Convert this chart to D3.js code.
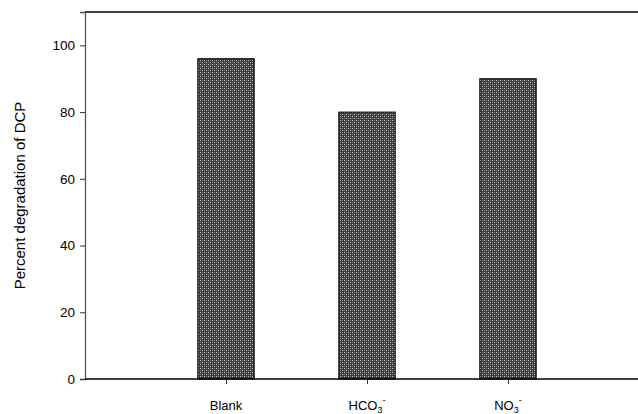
<!DOCTYPE html>
<html>
<head>
<meta charset="utf-8">
<script src="https://cdn.jsdelivr.net/npm/d3@7"></script>
<style>
body { margin: 0; background: #fff; }
text { font-family: "Liberation Sans", Arial, sans-serif; fill: #000; }
</style>
</head>
<body>
<div id="chart"></div>
<script>
// data
var categories = ["Blank", "HCO3", "NO3"];
var values = [96, 80, 90];
var yTicks = [0, 20, 40, 60, 80, 100];

var W = 638, H = 414;
var margin = { top: 12, left: 85, bottom: 35 };

var svg = d3.select("#chart").append("svg")
    .attr("width", W).attr("height", H);

// dotted fill like the original
var pat = svg.append("defs").append("pattern")
    .attr("id", "dots").attr("patternUnits", "userSpaceOnUse")
    .attr("width", 4).attr("height", 4);
pat.append("rect").attr("width", 4).attr("height", 4).attr("fill", "#3c3c3c");
pat.append("rect").attr("x", 0).attr("y", 0).attr("width", 1).attr("height", 1).attr("fill", "#c4c4c4");
pat.append("rect").attr("x", 2).attr("y", 2).attr("width", 1).attr("height", 1).attr("fill", "#c4c4c4");
pat.append("rect").attr("x", 2).attr("y", 0).attr("width", 1).attr("height", 1).attr("fill", "#7a7a7a");
pat.append("rect").attr("x", 0).attr("y", 2).attr("width", 1).attr("height", 1).attr("fill", "#7a7a7a");

var y = d3.scaleLinear().domain([0, 110]).range([H - margin.bottom, margin.top]);
// categories sit at 1,2,3; the frame runs past the right edge of the picture
var x = d3.scaleLinear().domain([0, 4]).range([margin.left, margin.left + 4 * 141]);
var barW = x(0.4) - x(0);

// top frame line
svg.append("line")
    .attr("x1", margin.left).attr("x2", W)
    .attr("y1", y(110)).attr("y2", y(110))
    .attr("stroke", "#000").attr("stroke-width", 1.5);

svg.selectAll("rect.bar")
    .data(values)
    .enter().append("rect")
    .attr("class", "bar")
    .attr("x", function(d, i) { return x(i + 1) - barW / 2; })
    .attr("y", function(d) { return y(d); })
    .attr("width", barW)
    .attr("height", function(d) { return y(0) - y(d); })
    .attr("fill", "url(#dots)")
    .attr("stroke", "#000").attr("stroke-width", 1);

var yAxis = svg.append("g")
    .attr("transform", "translate(" + margin.left + ",0)")
    .call(d3.axisLeft(y).tickValues(yTicks).tickSize(5).tickPadding(5));
yAxis.select(".domain").attr("stroke", "#555").attr("stroke-width", 1.3);
yAxis.selectAll(".tick line").attr("stroke", "#333");
yAxis.selectAll(".tick text")
    .style("font-family", "Liberation Sans, Arial, sans-serif")
    .style("font-size", "13.5px").attr("fill", "#000");

var xAxis = svg.append("g")
    .attr("transform", "translate(0," + y(0) + ")")
    .call(d3.axisBottom(x).tickValues([1, 2, 3]).tickSize(5).tickFormat(""));
xAxis.select(".domain").remove();
xAxis.selectAll(".tick line").attr("stroke", "#333");
svg.append("line")
    .attr("x1", margin.left).attr("x2", W)
    .attr("y1", y(0)).attr("y2", y(0))
    .attr("stroke", "#000").attr("stroke-width", 1.5);

// category labels with sub/superscripts
var lab = svg.append("g").selectAll("text")
    .data(categories).enter().append("text")
    .attr("x", function(d, i) { return x(i + 1); })
    .attr("y", 410)
    .attr("text-anchor", "middle")
    .style("font-size", "13px");
lab.each(function(d) {
    var t = d3.select(this);
    if (d === "Blank") { t.text("Blank"); return; }
    t.append("tspan").text(d.slice(0, -1));
    t.append("tspan").attr("dy", 3).style("font-size", "9px").text("3");
    t.append("tspan").attr("dy", -10).style("font-size", "9px").text("-");
});

svg.append("text")
    .attr("transform", "translate(25," + y(55) + ") rotate(-90)")
    .attr("text-anchor", "middle")
    .style("font-size", "15px")
    .text("Percent degradation of DCP");
</script>
</body>
</html>
